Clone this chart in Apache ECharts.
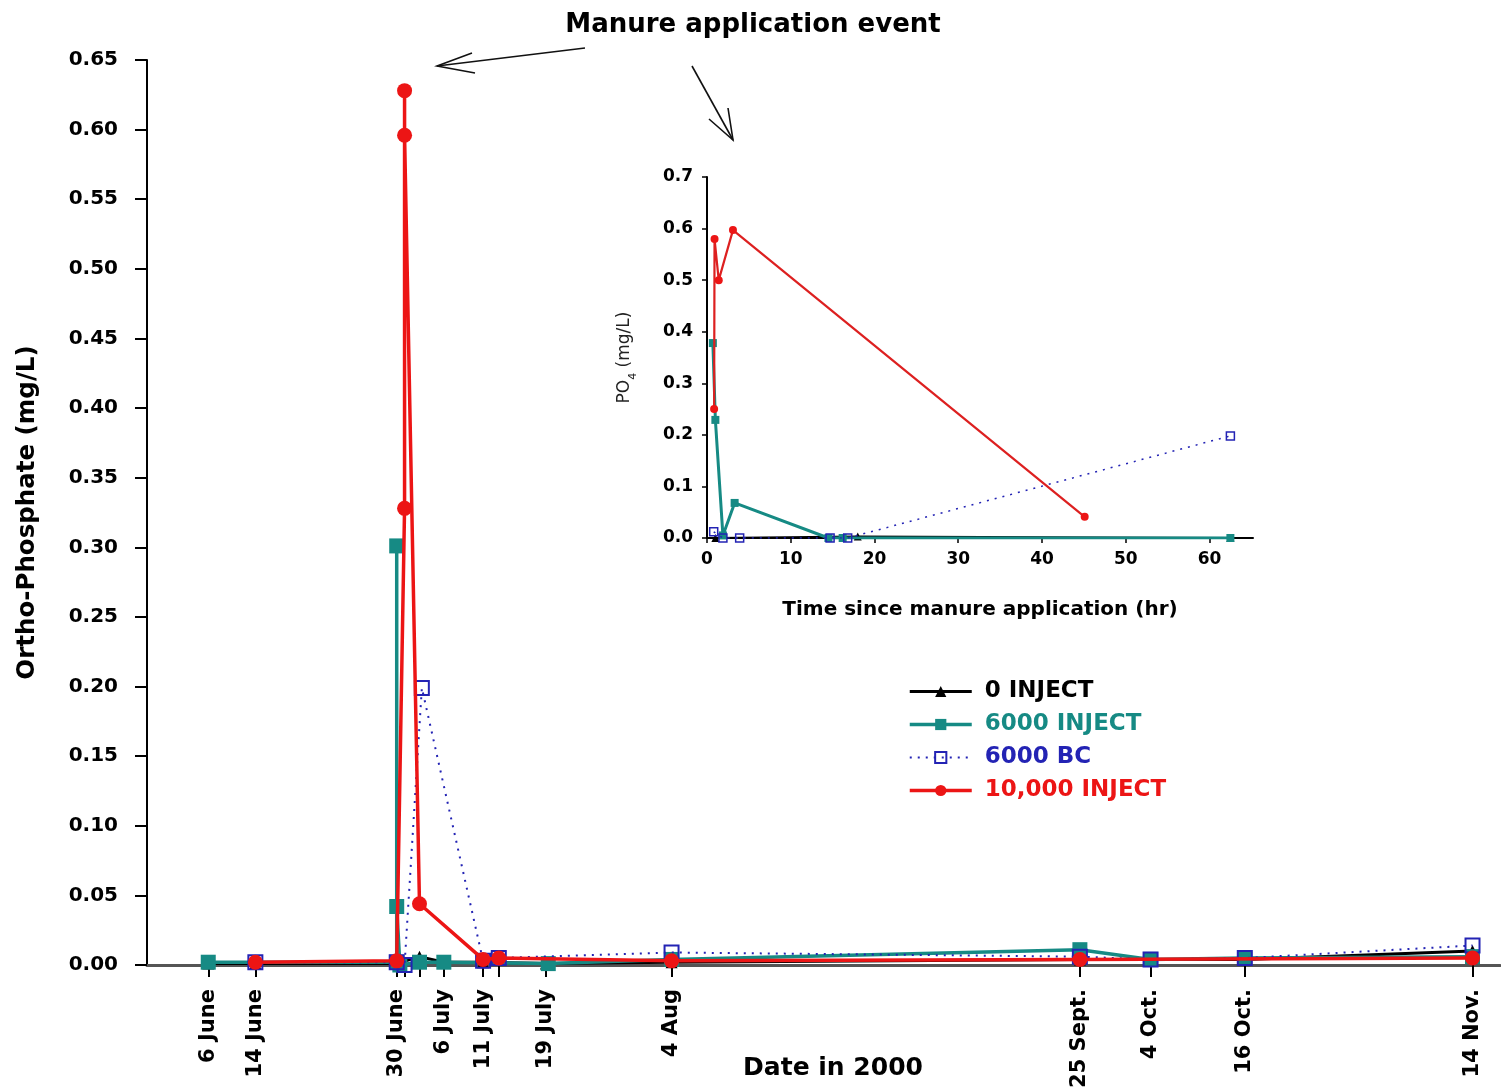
<!DOCTYPE html>
<html>
<head>
<meta charset="utf-8">
<title>Ortho-Phosphate in runoff, 2000</title>
<script src="https://cdn.jsdelivr.net/npm/echarts@6/dist/echarts.min.js"></script>
<style>
  html, body { margin: 0; padding: 0; background: #fff; }
  #chart { width: 1501px; height: 1090px; }
</style>
</head>
<body>
<div id="chart"></div>
<script>
// ---- Main panel: sampling dates, as days relative to 30 June on the plotted date scale ----
const dateTicks  = [-24, -18, 0, 6, 11, 19, 35, 87, 96, 108, 137];
const dateLabels = ['6 June', '14 June', '30 June', '6 July', '11 July', '19 July',
                    '4 Aug', '25 Sept.', '4 Oct.', '16 Oct.', '14 Nov.'];
// unlabeled sampling ticks during the event week
const eventTicks = [1, 2.9, 13];

// Ortho-Phosphate (mg/L) per treatment: [day, value]
const inject0 = [[-24, 0.001], [-18, 0.001], [0, 0.001], [2.9, 0.006], [6, 0.002], [11, 0.002],
                 [19, 0.001], [35, 0.002], [87, 0.004], [96, 0.004], [108, 0.004], [137, 0.010]];
const inject6000 = [[-24, 0.002], [0, 0.002], [0, 0.301], [0, 0.042], [0.4, 0.000], [2.9, 0.002],
                    [6, 0.002], [19.3, 0.001], [35, 0.004], [87, 0.011], [96, 0.004], [108, 0.005],
                    [137, 0.006]];
const bc6000 = [[-18, 0.002], [0, 0.002], [1, 0.000], [3.2, 0.199], [11, 0.003], [13, 0.005],
                [35, 0.009], [87, 0.006], [96, 0.004], [108, 0.005], [137, 0.014]];
const inject10000 = [[-18, 0.002], [0, 0.003], [1, 0.328], [1, 0.628], [1, 0.596], [2.9, 0.044],
                     [11, 0.004], [13, 0.005], [35, 0.003], [87, 0.004], [137, 0.005]];

// ---- Inset: PO4 (mg/L) vs hours since manure application ----
const hourTicks = [0, 10, 20, 30, 40, 50, 60];
const hr0 = [[1.0, 0.000], [18, 0.003], [62.5, 0.000]];
const hr6000 = [[0.7, 0.378], [1.0, 0.229], [1.9, 0.005], [3.3, 0.068], [14.5, 0.000], [16.2, 0.000],
                [62.5, 0.000]];
const hrBC = [[0.8, 0.012], [1.9, 0.000], [3.9, 0.000], [14.7, 0.000], [16.8, 0.000], [62.5, 0.198]];
const hr10000 = [[0.85, 0.25], [0.9, 0.58], [1.4, 0.50], [3.1, 0.597], [45.1, 0.041]];

const FONT = '"DejaVu Sans", "Liberation Sans", Arial, sans-serif';
const C_BLACK = '#000000';
const C_TEAL = '#168a84';
const C_BLUE = '#2323b4';
const C_RED = '#ec1515';

const chart = echarts.init(document.getElementById('chart'), null, { renderer: 'canvas' });

function lineSeries(name, data, color, opts) {
  return Object.assign({
    type: 'line',
    name: name,
    data: data,
    xAxisIndex: 0,
    yAxisIndex: 0,
    symbolKeepAspect: true,
    lineStyle: { color: color, width: 3 },
    itemStyle: { color: color },
    emphasis: { disabled: true },
    animation: false
  }, opts);
}

const option = {
  backgroundColor: '#ffffff',
  animation: false,
  textStyle: { fontFamily: FONT },
  grid: [
    { left: 147, right: 1, top: 60, bottom: 125, containLabel: false, outerBoundsMode: 'none' },
    { left: 707, right: 248, top: 177, bottom: 552, containLabel: false, outerBoundsMode: 'none' }
  ],
  legend: {
    left: 903,
    top: 675,
    orient: 'vertical',
    itemWidth: 62,
    itemHeight: 14,
    itemGap: 10,
    selectedMode: false,
    textStyle: { fontFamily: FONT, fontWeight: 'bold', fontSize: 23, padding: [0, 0, 0, 8] },
    data: [
      { name: '0 INJECT', textStyle: { color: C_BLACK }, lineStyle: { width: 3 } },
      { name: '6000 INJECT', textStyle: { color: C_TEAL }, lineStyle: { width: 3.5 } },
      { name: '6000 BC', textStyle: { color: C_BLUE } },
      { name: '10,000 INJECT', textStyle: { color: C_RED }, lineStyle: { width: 3.5 } }
    ]
  },
  xAxis: [
    {
      type: 'value',
      gridIndex: 0,
      min: -31.8,
      max: 140.5,
      splitLine: { show: false },
      axisLine: { show: true, onZero: false, lineStyle: { color: '#555', width: 3 } },
      axisTick: {
        show: true,
        length: 12,
        customValues: dateTicks.concat(eventTicks),
        lineStyle: { color: '#000', width: 2 }
      },
      axisLabel: {
        customValues: dateTicks,
        formatter: function (v) {
          const i = dateTicks.indexOf(v);
          return i >= 0 ? dateLabels[i] : '';
        },
        rotate: 90,
        margin: 24,
        color: '#000',
        fontFamily: FONT,
        fontWeight: 'bold',
        fontSize: 21
      }
    },
    {
      type: 'value',
      gridIndex: 1,
      min: 0,
      max: 65.2,
      splitLine: { show: false },
      axisLine: { show: true, onZero: false, lineStyle: { color: '#000', width: 2 } },
      axisTick: { show: true, length: 5, customValues: hourTicks, lineStyle: { color: '#000', width: 1.5 } },
      axisLabel: {
        customValues: hourTicks,
        margin: 13,
        color: '#000',
        fontFamily: FONT,
        fontWeight: 'bold',
        fontSize: 17
      },
      name: 'Time since manure application (hr)',
      nameLocation: 'middle',
      nameGap: 62,
      nameTextStyle: { color: '#000', fontFamily: FONT, fontWeight: 'bold', fontSize: 20 }
    }
  ],
  yAxis: [
    {
      type: 'value',
      gridIndex: 0,
      min: 0,
      max: 0.65,
      interval: 0.05,
      splitLine: { show: false },
      axisLine: { show: true, onZero: false, lineStyle: { color: '#000', width: 2 } },
      axisTick: { show: true, length: 12, lineStyle: { color: '#000', width: 2 } },
      axisLabel: {
        formatter: function (v) { return v.toFixed(2); },
        margin: 29,
        color: '#000',
        fontFamily: FONT,
        fontWeight: 'bold',
        fontSize: 20
      },
      name: 'Ortho-Phosphate (mg/L)',
      nameLocation: 'middle',
      nameGap: 107,
      nameTextStyle: { color: '#000', fontFamily: FONT, fontWeight: 'bold', fontSize: 24.5 }
    },
    {
      type: 'value',
      gridIndex: 1,
      min: 0,
      max: 0.7,
      interval: 0.1,
      splitLine: { show: false },
      axisLine: { show: true, onZero: false, lineStyle: { color: '#000', width: 2 } },
      axisTick: { show: true, length: 5, lineStyle: { color: '#000', width: 1.5 } },
      axisLabel: {
        formatter: function (v) { return v.toFixed(1); },
        margin: 14,
        color: '#000',
        fontFamily: FONT,
        fontWeight: 'bold',
        fontSize: 17
      },
      name: 'PO{sub|4} (mg/L)',
      nameLocation: 'middle',
      nameGap: 74,
      nameTextStyle: {
        color: '#222',
        fontFamily: FONT,
        fontSize: 17,
        rich: { sub: { fontSize: 11, verticalAlign: 'bottom', padding: [0, 0, -6, 0], color: '#222', fontFamily: FONT } }
      }
    }
  ],
  series: [
    // main panel
    lineSeries('0 INJECT', inject0, C_BLACK, { symbol: 'triangle', symbolSize: 12, z: 2 }),
    lineSeries('6000 INJECT', inject6000, C_TEAL, { symbol: 'rect', symbolSize: 15, z: 3, lineStyle: { color: C_TEAL, width: 3.5 } }),
    lineSeries('6000 BC', bc6000, C_BLUE, {
      symbol: 'rect', symbolSize: 14, z: 4,
      lineStyle: { color: C_BLUE, width: 2, type: [2, 6] },
      itemStyle: { color: 'rgba(255,255,255,0)', borderColor: C_BLUE, borderWidth: 2 }
    }),
    lineSeries('10,000 INJECT', inject10000, C_RED, { symbol: 'circle', symbolSize: 15, z: 5, lineStyle: { color: C_RED, width: 3.5 } }),
    // inset panel
    lineSeries('0 INJECT', hr0, C_BLACK, { xAxisIndex: 1, yAxisIndex: 1, symbol: 'triangle', symbolSize: 8, z: 2, lineStyle: { color: C_BLACK, width: 2 } }),
    lineSeries('6000 INJECT', hr6000, C_TEAL, { xAxisIndex: 1, yAxisIndex: 1, symbol: 'rect', symbolSize: 8, z: 3, lineStyle: { color: C_TEAL, width: 3 } }),
    lineSeries('6000 BC', hrBC, C_BLUE, {
      xAxisIndex: 1, yAxisIndex: 1, symbol: 'rect', symbolSize: 8, z: 4,
      lineStyle: { color: C_BLUE, width: 1.5, type: [2, 6] },
      itemStyle: { color: 'rgba(255,255,255,0)', borderColor: C_BLUE, borderWidth: 1.5 }
    }),
    lineSeries('10,000 INJECT', hr10000, C_RED, { xAxisIndex: 1, yAxisIndex: 1, symbol: 'circle', symbolSize: 8, z: 5, lineStyle: { color: '#dd2020', width: 2.2 } })
  ],
  graphic: [
    {
      type: 'text',
      x: 753, y: 25,
      style: {
        text: 'Manure application event',
        font: 'bold 26px ' + FONT,
        fill: '#000',
        align: 'center',
        verticalAlign: 'middle'
      }
    },
    // date axis title, set below the rotated date labels
    {
      type: 'text',
      x: 833, y: 1068,
      style: {
        text: 'Date in 2000',
        font: 'bold 25px ' + FONT,
        fill: '#000',
        align: 'center',
        verticalAlign: 'middle'
      }
    },
    // arrow toward the main-panel spike
    { type: 'polyline', shape: { points: [[585, 48], [437, 66]] }, style: { stroke: '#111', lineWidth: 1.6, fill: null } },
    { type: 'polyline', shape: { points: [[472, 53], [437, 66], [475, 73]] }, style: { stroke: '#111', lineWidth: 1.6, fill: null } },
    // arrow toward the inset
    { type: 'polyline', shape: { points: [[692, 66], [733, 140]] }, style: { stroke: '#111', lineWidth: 1.6, fill: null } },
    { type: 'polyline', shape: { points: [[709, 119], [733, 140], [728, 108]] }, style: { stroke: '#111', lineWidth: 1.6, fill: null } }
  ]
};

chart.setOption(option);
</script>
</body>
</html>
